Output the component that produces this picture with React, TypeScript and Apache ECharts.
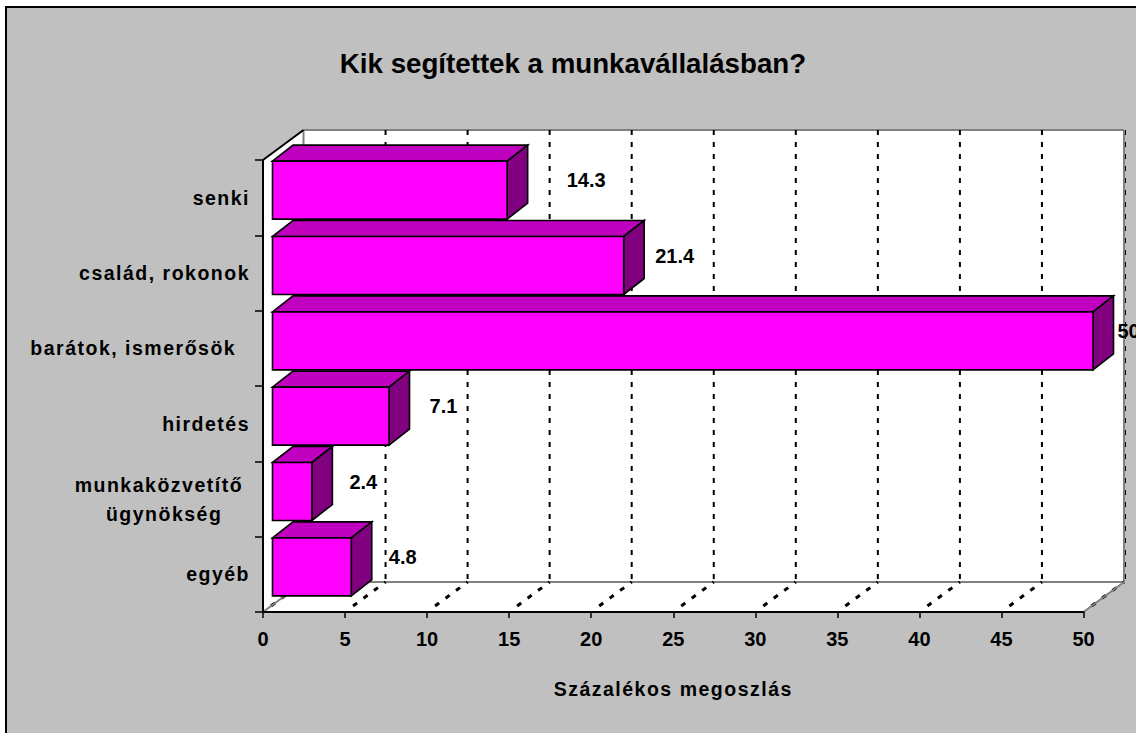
import React, { useEffect, useRef } from "react";
import * as echarts from "echarts";

const categories = ["senki", "család, rokonok", "barátok, ismerősök\u00A0\u00A0", "hirdetés", "munkaközvetítő\u00A0\nügynökség\u00A0\u00A0\u00A0\u00A0", "egyéb"];
const values = [14.3, 21.4, 50, 7.1, 2.4, 4.8];
const valueLabels = ["14.3", "21.4", "50", "7.1", "2.4", "4.8"];
const xTicks = [0, 5, 10, 15, 20, 25, 30, 35, 40, 45, 50];
const labelGaps = [39, 11, 4, 20, 17, 17];

const FONT = '"Liberation Sans", Arial, sans-serif';
const DX = 40.5;
const DY = -30;
const GRAY = "#808080";

function wallsItem(params: any, api: any) {
  const r = params.coordSys;
  const l = r.x, t = r.y, w = r.width, h = r.height;
  const gs = (x1: number, y1: number, x2: number, y2: number, c = GRAY) => ({
    type: "line", shape: { x1, y1, x2, y2 }, style: { stroke: c, lineWidth: 2 },
  });
  return {
    type: "group",
    children: [
      { type: "polygon", shape: { points: [[l, t], [l + DX, t + DY], [l + w + DX, t + DY], [l + w + DX, t + h + DY], [l + w, t + h], [l, t + h]] }, style: { fill: "#fff" } },
      gs(l + DX, t + DY, l + w + DX, t + DY),
      gs(l + DX, t + DY, l + DX, t + h + DY),
      gs(l + w + DX, t + DY, l + w + DX, t + h + DY),
      gs(l + DX, t + h + DY, l + w + DX, t + h + DY),
      gs(l, t, l + DX, t + DY, "#000"),
    ],
  };
}

function gridItem(params: any, api: any) {
  const r = params.coordSys;
  const v = api.value(0);
  const x = api.coord([v, 0])[0];
  const t = r.y, b = r.y + r.height;
  const isEnd = v === 50;
  const dash = { type: "line", shape: { x1: x + DX, y1: t + DY, x2: x + DX, y2: b + DY }, style: { stroke: "#000", lineWidth: isEnd ? 1 : 2, lineDash: [5, 7] } };
  const floor = { type: "line", shape: { x1: x + 8, y1: b - 6, x2: x + DX, y2: b + DY }, style: { stroke: "#000", lineWidth: 3, lineDash: [5, 8] } };
  const edge = { type: "line", shape: { x1: x, y1: b, x2: x + DX, y2: b + DY }, style: { stroke: GRAY, lineWidth: 2 } };
  const children: any[] = v === 0 ? [floor, edge] : isEnd ? [{ ...dash, shape: { ...dash.shape, x1: x + DX + 1.5, x2: x + DX + 1.5 } }, floor, edge] : [dash, floor];
  return { type: "group", children };
}

function barItem(params: any, api: any) {
  const i = params.dataIndex;
  const zero = api.coord([0, i]);
  const end = api.coord([api.value(0), i]);
  const x0 = zero[0] + 9.5;
  const x1 = end[0] + 9.5;
  const yc = zero[1] - 7.5;
  const y0 = yc - 29;
  const y1 = yc + 29;
  const dx = 20.5;
  const dy = -16;
  const st = (fill: string) => ({ fill, stroke: "#000", lineWidth: 1.6, lineJoin: "miter" });
  return {
    type: "group",
    children: [
      { type: "polygon", shape: { points: [[x0, y0], [x0 + dx, y0 + dy], [x1 + dx, y0 + dy], [x1, y0]] }, style: st("#BF00BF") },
      { type: "polygon", shape: { points: [[x1, y0], [x1 + dx, y0 + dy], [x1 + dx, y1 + dy], [x1, y1]] }, style: st("#800080") },
      { type: "rect", shape: { x: x0, y: y0, width: x1 - x0, height: y1 - y0 }, style: st("#FF00FF") },
      {
        type: "text",
        x: x1 + dx + labelGaps[i],
        y: yc - 10,
        style: { text: valueLabels[i], fill: "#000", font: `bold 20px ${FONT}`, textAlign: "left", textVerticalAlign: "middle" },
      },
    ],
  };
}

export default function App() {
  const ref = useRef<HTMLDivElement>(null);
  useEffect(() => {
    const chart = echarts.init(ref.current!, null, { renderer: "svg" });
    chart.setOption({
      animation: false,
      backgroundColor: "#fff",
      title: {
        text: "Kik segítettek a munkavállalásban?",
        left: 568,
        top: 44,
        textAlign: "center",
        textStyle: { fontFamily: FONT, fontSize: 27.7, fontWeight: "bold", color: "#000" },
      },
      graphic: [
        { type: "rect", z: -10, silent: true, shape: { x: 6, y: 7, width: 1150, height: 750 }, style: { fill: "#C0C0C0", stroke: "#000", lineWidth: 2 } },
      ],
      grid: { left: 263, top: 160, width: 820.5, height: 452 },
      xAxis: {
        type: "value",
        min: 0,
        max: 50,
        interval: 5,
        z: 5,
        name: "Százalékos megoszlás",
        nameLocation: "middle",
        nameGap: 67,
        nameTextStyle: { fontFamily: FONT, fontSize: 19.5, fontWeight: "bold", color: "#000", padding: [0, 0, 0, 0] },
        axisLine: { show: true, lineStyle: { color: "#000", width: 2 } },
        axisTick: { show: true, length: 6, lineStyle: { color: "#000", width: 1.5 } },
        axisLabel: { color: "#000", fontFamily: FONT, fontSize: 20, fontWeight: "bold", margin: 17 },
        splitLine: { show: false },
      },
      yAxis: {
        type: "category",
        inverse: true,
        data: categories,
        z: 5,
        axisLine: { show: true, onZero: false, lineStyle: { color: "#000", width: 2 } },
        axisTick: { show: true, length: 8, alignWithLabel: false, lineStyle: { color: "#000", width: 1.5 } },
        axisLabel: { color: "#000", fontFamily: FONT, fontSize: 19.5, fontWeight: "bold", margin: 13, lineHeight: 29, align: "right" },
      },
      series: [
        { type: "custom", z: 1, coordinateSystem: "cartesian2d", silent: true, data: [[0, 0]], renderItem: wallsItem, encode: { x: 0, y: 1 } },
        { type: "custom", z: 2, coordinateSystem: "cartesian2d", silent: true, data: xTicks.map((v) => [v, 0]), renderItem: gridItem, encode: { x: 0, y: 1 } },
        { type: "custom", z: 6, coordinateSystem: "cartesian2d", silent: true, data: values.map((v, i) => [v, i]), renderItem: barItem, encode: { x: 0, y: 1 } },
      ],
    });
    return () => chart.dispose();
  }, []);
  return (
    <>
      <style>{'body{margin:0;overflow:hidden} text[style*="19.5px"]{letter-spacing:1.5px;white-space:pre}'}</style>
      <div ref={ref} style={{ position: "absolute", left: 0, top: 0, width: 1136, height: 733 }} />
    </>
  );
}
